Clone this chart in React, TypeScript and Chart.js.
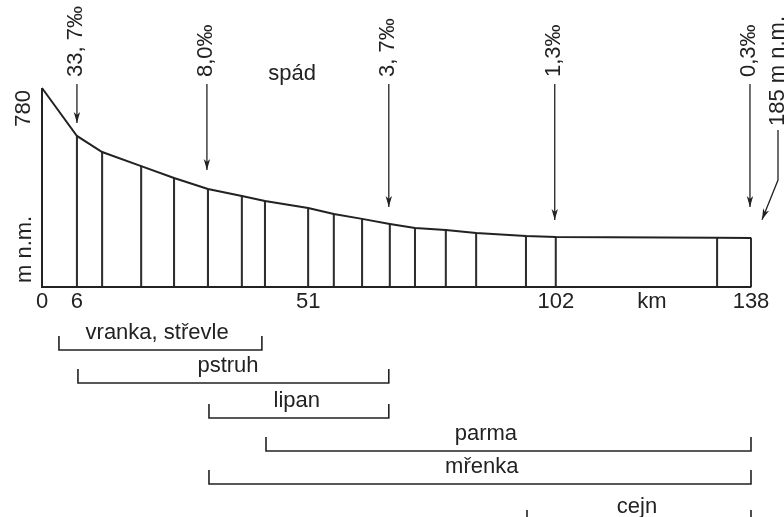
import React, { useEffect, useRef } from 'react';
import { Chart, registerables } from 'chart.js';

Chart.register(...registerables);

// Stations along the drawn river profile (km as drawn), and elevation (m n.m.)
const stationKm = [0, 6.8, 11.7, 19.3, 25.7, 32.3, 38.9, 43.4, 51.8, 56.8, 62.3, 67.7, 72.6, 78.6, 84.5, 94.2, 100.0, 131.4, 138];
const elevation = [780, 592, 529, 474, 427, 384, 357, 337, 310, 286, 267, 247, 231, 223, 212, 200, 196, 193, 192];

// X axis tick labels and where they sit
const tickKm = [0, 6.8, 51.8, 100.0, 138];
const tickLabels = ['0', '6', '51', '102', '138'];

// Gradient ("spád") labels with arrows
const gradKm = [6.8, 32.1, 67.5, 99.8, 137.8];
const gradLabels = ['33, 7‰', '8,0‰', '3, 7‰', '1,3‰', '0,3‰'];
const gradArrowTip = [643, 459, 314, 263, 314];

// Fish zones
const fishNames = ['vranka, střevle', 'pstruh', 'lipan', 'parma', 'mřenka', 'cejn'];
const fishStart = [3.3, 7.0, 32.5, 43.6, 32.5, 94.4];
const fishEnd = [42.8, 67.5, 67.5, 138, 138, 138];
const fishLabelKm = [22.4, 36.2, 49.6, 86.4, 85.6, 115.8];

const FONT = '22px "Liberation Sans", Arial, Helvetica, sans-serif';
const INK = '#222222';
const rowY = [350, 383, 418, 451, 484, 524];

function arrow(ctx: CanvasRenderingContext2D, pts: number[][]) {
  ctx.beginPath();
  ctx.moveTo(pts[0][0], pts[0][1]);
  for (let i = 1; i < pts.length; i++) ctx.lineTo(pts[i][0], pts[i][1]);
  ctx.stroke();
  const [x2, y2] = pts[pts.length - 1];
  const [x1, y1] = pts[pts.length - 2];
  const a = Math.atan2(y2 - y1, x2 - x1);
  const L = 11, W = 3.2;
  ctx.beginPath();
  ctx.moveTo(x2, y2);
  ctx.lineTo(x2 - L * Math.cos(a) + W * Math.sin(a), y2 - L * Math.sin(a) - W * Math.cos(a));
  ctx.lineTo(x2 - (L - 3) * Math.cos(a), y2 - (L - 3) * Math.sin(a));
  ctx.lineTo(x2 - L * Math.cos(a) - W * Math.sin(a), y2 - L * Math.sin(a) + W * Math.cos(a));
  ctx.closePath();
  ctx.fill();
}

function rotText(ctx: CanvasRenderingContext2D, text: string, x: number, y: number, align: CanvasTextAlign) {
  ctx.save();
  ctx.translate(x, y);
  ctx.rotate(-Math.PI / 2);
  ctx.textAlign = align;
  ctx.textBaseline = 'middle';
  ctx.fillText(text, 0, 0);
  ctx.restore();
}

const annotPlugin = {
  id: 'annot',
  afterDatasetsDraw(chart: any) {
    const ctx: CanvasRenderingContext2D = chart.ctx;
    const xs = chart.scales.x;
    const ys = chart.scales.y;
    const X = (v: number) => xs.getPixelForValue(v);
    const Y = (v: number) => ys.getPixelForValue(v);
    ctx.save();
    ctx.strokeStyle = INK;
    ctx.fillStyle = INK;
    ctx.font = FONT;

    // baseline and y axis
    ctx.lineWidth = 2;
    ctx.beginPath();
    ctx.moveTo(X(0), Y(elevation[0]));
    ctx.lineTo(X(0), Y(0));
    ctx.lineTo(X(138), Y(0));
    ctx.stroke();

    // y labels
    rotText(ctx, '780', 24, Y(780) + 2, 'right');
    rotText(ctx, 'm n.m.', 25, Y(0) - 4, 'left');

    // x tick labels
    ctx.textAlign = 'center';
    ctx.textBaseline = 'middle';
    tickKm.forEach((k, i) => ctx.fillText(tickLabels[i], X(k), Y(0) + 15));
    ctx.fillText('km', X(118.7), Y(0) + 15);

    // spád
    ctx.fillText('spád', X(48.7), 74);

    // gradient arrows
    ctx.lineWidth = 1.3;
    gradKm.forEach((k, i) => {
      const x = X(k);
      rotText(ctx, gradLabels[i], x - 1, 77, 'left');
      arrow(ctx, [[x, 84], [x, Y(gradArrowTip[i])]]);
    });

    // 185 m n.m.
    rotText(ctx, '185 m n.m.', 778, 126, 'left');
    arrow(ctx, [[778, 130], [778, 180], [762, Y(264)]]);

    // fish brackets
    ctx.lineWidth = 1.6;
    fishNames.forEach((n, i) => {
      const y = rowY[i];
      const x1 = X(fishStart[i]);
      const x2 = X(fishEnd[i]);
      ctx.beginPath();
      ctx.moveTo(x1, y - 14);
      ctx.lineTo(x1, y);
      ctx.lineTo(x2, y);
      ctx.lineTo(x2, y - 14);
      ctx.stroke();
      ctx.textAlign = 'center';
      ctx.textBaseline = 'alphabetic';
      ctx.fillText(n, X(fishLabelKm[i]), y - 11);
    });
    ctx.restore();
  },
};

export default function App() {
  const ref = useRef<HTMLCanvasElement | null>(null);
  useEffect(() => {
    if (!ref.current) return;
    const pts = stationKm.map((k, i) => ({ x: k, y: elevation[i] }));
    const chart = new Chart(ref.current, {
      type: 'bar',
      data: {
        datasets: [
          {
            type: 'line',
            data: pts,
            borderColor: INK,
            borderWidth: 2,
            pointRadius: 0,
            tension: 0,
            clip: false,
          } as any,
          {
            type: 'bar',
            data: pts.slice(1),
            backgroundColor: '#2e2e2e',
            borderWidth: 0,
            barThickness: 1.4,
            clip: false,
          } as any,
        ],
      },
      options: {
        responsive: false,
        animation: false,
        layout: { padding: { left: 42, right: 33, top: 88, bottom: 230 } },
        plugins: { legend: { display: false }, tooltip: { enabled: false } },
        scales: {
          x: { type: 'linear', min: 0, max: 138, display: false, offset: false },
          y: { type: 'linear', min: 0, max: 780, display: false },
        },
      },
      plugins: [annotPlugin],
    });
    return () => chart.destroy();
  }, []);
  return (
    <div style={{ position: 'absolute', left: 0, top: 0, width: 784, height: 517, background: '#fff' }}>
      <canvas ref={ref} width={784} height={517} />
    </div>
  );
}
